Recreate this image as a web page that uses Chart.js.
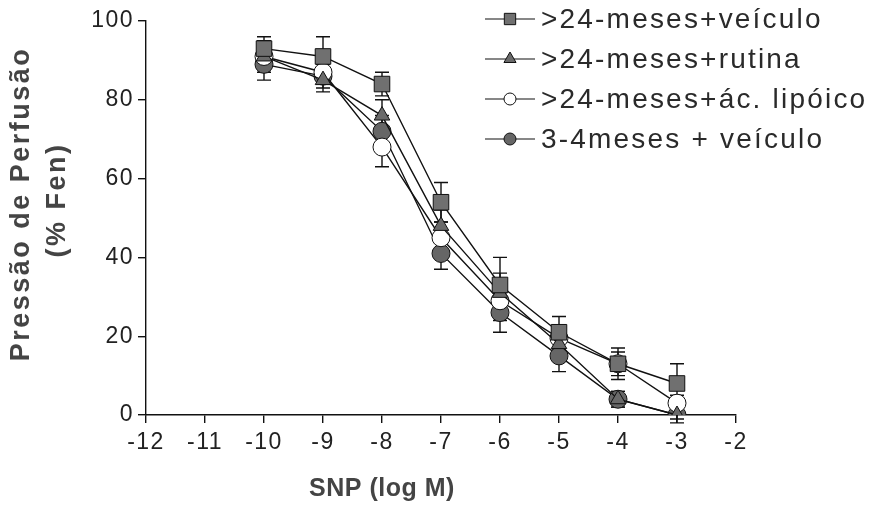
<!DOCTYPE html>
<html>
<head>
<meta charset="utf-8">
<script src="https://cdn.jsdelivr.net/npm/chart.js@4/dist/chart.umd.min.js"></script>
<style>
  html, body { margin: 0; padding: 0; background: #fff; }
  #wrap { width: 874px; height: 512px; position: relative; }
</style>
</head>
<body>
<div id="wrap"><canvas id="snpChart"></canvas></div>
<script>
// SNP concentrations (log M)
const doses = [-10, -9, -8, -7, -6, -5, -4, -3];

// Perfusion pressure (% Fen), means
const oldVehicle = [93, 91, 84, 54, 33, 21, 13, 8];
const oldRutin   = [91, 85, 76, 48, 31, 18, 4, 0];
const oldLipoic  = [91, 87, 68, 45, 29, 19.5, 13, 3];
const youngVehicle = [89, 86, 72, 41, 26, 15, 4, 0];

// Standard errors
const oldVehicleErr = [3, 5, 3, 5, 7, 4, 4, 5];
const oldRutinErr   = [3, 3, 4, 4, 5, 3, 2, 2];
const oldLipoicErr  = [4, 3, 5, 4, 5, 3, 3, 2];
const youngVehicleErr = [4, 3, 4, 4, 5, 4, 2, 1];

const xTicks = [-12, -11, -10, -9, -8, -7, -6, -5, -4, -3, -2];
const yTicks = [0, 20, 40, 60, 80, 100];

const seriesLabels = ['>24-meses+veículo', '>24-meses+rutina', '>24-meses+ác. lipóico', '3-4meses + veículo'];

const toPoints = vals => doses.map((d, i) => ({ x: d, y: vals[i] }));

function series(label, vals, errs, style, radius, fill) {
    return {
        label: label,
        data: toPoints(vals),
        errors: errs,
        borderColor: '#111',
        borderWidth: 1.4,
        pointStyle: style,
        pointRadius: radius,
        pointBackgroundColor: fill,
        pointBorderColor: '#111',
        pointBorderWidth: 1,
        tension: 0,
        fill: false
    };
}

const datasets = [
    series(seriesLabels[0], oldVehicle, oldVehicleErr, 'rect', 11, '#707070'),
    series(seriesLabels[1], oldRutin, oldRutinErr, 'triangle', 9, '#6a6a6a'),
    series(seriesLabels[2], oldLipoic, oldLipoicErr, 'circle', 9, '#ffffff'),
    series(seriesLabels[3], youngVehicle, youngVehicleErr, 'circle', 9, '#666666')
];

// a little letter spacing for the tick labels
const spacing = {
    id: 'spacing',
    beforeDraw(chart) { chart.ctx.letterSpacing = '1.5px'; }
};

// vertical error bars with caps, under the markers
const errorBars = {
    id: 'errorBars',
    beforeDatasetsDraw(chart) {
        const ctx = chart.ctx;
        const xs = chart.scales.x, ys = chart.scales.y;
        ctx.save();
        ctx.strokeStyle = '#111';
        ctx.lineWidth = 1.4;
        chart.data.datasets.forEach(ds => {
            ds.data.forEach((p, i) => {
                const e = ds.errors[i];
                const px = xs.getPixelForValue(p.x);
                const top = ys.getPixelForValue(p.y + e);
                const bot = ys.getPixelForValue(p.y - e);
                ctx.beginPath();
                ctx.moveTo(px, top); ctx.lineTo(px, bot);
                ctx.moveTo(px - 7, top); ctx.lineTo(px + 7, top);
                ctx.moveTo(px - 7, bot); ctx.lineTo(px + 7, bot);
                ctx.stroke();
            });
        });
        ctx.restore();
    }
};

// axis titles and the legend at the top right
const decorations = {
    id: 'decorations',
    afterDraw(chart) {
        const ctx = chart.ctx;
        ctx.save();
        ctx.fillStyle = '#444';
        ctx.textAlign = 'center';
        ctx.textBaseline = 'middle';

        ctx.font = 'bold 25px "Liberation Sans", Arial, sans-serif';
        ctx.letterSpacing = '0.5px';
        ctx.fillText('SNP (log M)', 382, 489);

        ctx.font = 'bold 27px "Liberation Sans", Arial, sans-serif';
        ctx.letterSpacing = '2.5px';
        ctx.save();
        ctx.translate(22, 204);
        ctx.rotate(-Math.PI / 2);
        ctx.fillText('Pressão de Perfusão', 0, 0);
        ctx.restore();
        ctx.save();
        ctx.translate(58, 200);
        ctx.rotate(-Math.PI / 2);
        ctx.fillText('(% Fen)', 0, 0);
        ctx.restore();

        // legend
        ctx.font = '28px "Liberation Sans", Arial, sans-serif';
        ctx.letterSpacing = '2.2px';
        ctx.textAlign = 'left';
        const rowY = [19, 59, 99, 139];
        chart.data.datasets.forEach((ds, i) => {
            const y = rowY[i];
            ctx.strokeStyle = '#111';
            ctx.lineWidth = 1.2;
            ctx.beginPath();
            ctx.moveTo(485, y); ctx.lineTo(535, y);
            ctx.stroke();
            ctx.fillStyle = ds.pointBackgroundColor;
            ctx.lineWidth = 1;
            const r = ds.pointStyle === 'rect' ? 8 : (ds.pointStyle === 'triangle' ? 7 : 6);
            Chart.helpers.drawPoint(ctx, { pointStyle: ds.pointStyle, radius: r, rotation: 0, borderWidth: 1 }, 510, y);
            ctx.fillStyle = '#2a2a2a';
            ctx.fillText(ds.label, 541, y + 1);
        });
        ctx.restore();
    }
};

const tickFont = { size: 23, family: '"Liberation Sans", Arial, sans-serif' };

new Chart(document.getElementById('snpChart').getContext('2d'), {
    type: 'line',
    data: { datasets: datasets },
    options: {
        responsive: true,
        maintainAspectRatio: false,
        animation: false,
        layout: { padding: { left: 0, top: 21, right: 138, bottom: 0 } },
        plugins: {
            legend: { display: false },
            tooltip: { enabled: false }
        },
        scales: {
            x: {
                type: 'linear',
                min: -12,
                max: -2,
                afterBuildTicks: s => { s.ticks = xTicks.map(v => ({ value: v })); },
                afterFit: s => { s.height = 97; },
                ticks: { font: tickFont, color: '#222', padding: 6, maxRotation: 0, autoSkip: false },
                grid: { drawOnChartArea: false, drawTicks: true, tickLength: 8, color: '#111', lineWidth: 1.4 },
                border: { color: '#111', width: 1.4 }
            },
            y: {
                min: 0,
                max: 100,
                afterBuildTicks: s => { s.ticks = yTicks.map(v => ({ value: v })); },
                afterFit: s => { s.width = 146; },
                ticks: { font: tickFont, color: '#222', padding: 4 },
                grid: { drawOnChartArea: false, drawTicks: true, tickLength: 8, color: '#111', lineWidth: 1.4 },
                border: { color: '#111', width: 1.4 }
            }
        }
    },
    plugins: [spacing, errorBars, decorations]
});
</script>
</body>
</html>
